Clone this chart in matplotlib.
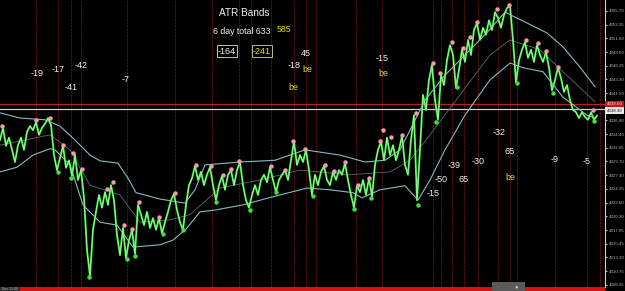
import matplotlib
matplotlib.use('Agg')
import matplotlib.pyplot as plt
import matplotlib.transforms as mtrans
from matplotlib.patches import Rectangle

plt.rcParams['font.family'] = ['Liberation Sans', 'DejaVu Sans']

W, H = 625, 291

# close price, one value every 3 bars
step = 3
price = [4333.4, 4335.5, 4332.4, 4333.8, 4331.7, 4329.6, 4332.5, 4333.8, 4331.7, 4334.8,
         4335.8, 4335.1, 4336.5, 4334.3, 4335.5, 4336.2, 4337.2, 4336.0, 4330.8, 4328.2,
         4330.3, 4332.4, 4328.6, 4329.9, 4327.2, 4330.8, 4326.5, 4328.2, 4323.4, 4314.4,
         4309.9, 4317.9, 4321.0, 4323.9, 4321.7, 4324.4, 4322.2, 4325.6, 4323.0, 4317.0,
         4313.5, 4318.2, 4313.0, 4316.1, 4317.9, 4313.7, 4322.2, 4320.5, 4318.7, 4321.0,
         4318.2, 4319.9, 4317.9, 4319.9, 4317.3, 4319.2, 4321.0, 4323.0, 4324.1, 4321.3,
         4319.2, 4317.9, 4322.2, 4325.6, 4326.8, 4328.9, 4326.5, 4327.9, 4325.6, 4327.4,
         4328.7, 4325.6, 4323.0, 4325.6, 4327.2, 4324.8, 4327.4, 4328.2, 4325.6, 4328.2,
         4329.6, 4325.6, 4323.0, 4321.7, 4323.9, 4325.6, 4323.9, 4326.5, 4327.4, 4326.1,
         4328.7, 4326.5, 4324.4, 4326.5, 4327.4, 4328.2, 4326.5, 4329.9, 4333.1, 4329.1,
         4330.8, 4329.6, 4331.7, 4328.2, 4323.9, 4327.4, 4325.6, 4327.9, 4328.9, 4326.5,
         4325.6, 4327.9, 4326.5, 4328.2, 4327.4, 4329.4, 4326.5, 4323.9, 4321.7, 4325.5,
         4324.4, 4326.5, 4323.9, 4326.8, 4323.6, 4329.1, 4331.7, 4333.1, 4329.9, 4333.8,
         4330.8, 4332.5, 4329.9, 4331.7, 4334.1, 4329.1, 4327.4, 4333.4, 4337.7, 4323.0,
         4331.7, 4341.2, 4338.6, 4343.8, 4346.4, 4340.3, 4336.9, 4344.6, 4342.9, 4347.2,
         4349.8, 4348.1, 4342.4, 4345.5, 4349.0, 4346.9, 4350.7, 4348.1, 4352.4, 4353.6,
         4350.7, 4352.8, 4351.6, 4354.1, 4352.4, 4355.5, 4354.5, 4352.8, 4355.0, 4356.2,
         4356.6, 4350.7, 4343.4, 4347.2, 4349.0, 4350.3, 4347.6, 4349.0, 4346.9, 4349.8,
         4348.1, 4346.9, 4348.6, 4345.9, 4342.0, 4343.8, 4345.9, 4344.1, 4341.7, 4342.9,
         4340.3, 4338.6, 4338.2, 4337.2, 4338.2, 4337.4, 4336.9, 4338.2, 4336.9, 4337.6]
bars = [i * step for i in range(len(price))]

# swing highs (pink) and swing lows (green)
hi_x = [2, 36, 50, 63, 73, 82, 107, 113, 124, 132, 139, 159, 175, 196, 211, 223, 231, 239,
        271, 285, 293, 305, 325, 334, 345, 358, 369, 380, 383, 391, 402, 416, 433, 440, 452,
        463, 470, 477, 497, 509, 526, 538, 546, 558, 593]
hi_p = [4335.8, 4336.9, 4337.2, 4332.5, 4331.2, 4328.4, 4324.9, 4326.1, 4318.7, 4318.0,
        4322.7, 4320.1, 4324.3, 4329.1, 4328.9, 4327.4, 4328.4, 4329.8, 4328.9, 4328.2,
        4333.2, 4331.9, 4329.1, 4328.1, 4329.6, 4325.6, 4326.8, 4333.2, 4335.1, 4333.9,
        4334.3, 4338.1, 4346.7, 4345.0, 4350.3, 4349.3, 4351.2, 4353.8, 4356.0, 4356.7,
        4350.7, 4350.2, 4348.8, 4346.0, 4338.6]
lo_x = [58, 71, 89, 127, 135, 163, 183, 216, 250, 276, 313, 354, 371, 418, 436, 457, 517, 553, 594]
lo_p = [4327.9, 4326.8, 4309.7, 4312.8, 4313.4, 4317.2, 4317.9, 4322.7, 4321.3, 4324.4,
        4323.7, 4321.5, 4323.4, 4322.2, 4336.5, 4342.6, 4343.3, 4341.5, 4336.7]

# ATR bands
up_x = [0, 20, 45, 60, 75, 90, 100, 118, 128, 136, 160, 185, 195, 205, 240, 275, 305, 340,
        365, 385, 400, 410, 425, 445, 465, 485, 505, 525, 547, 563, 580, 595]
up_p = [4338.1, 4337.2, 4336.9, 4335.8, 4333.4, 4330.8, 4329.8, 4329.4, 4326.8, 4324.3,
        4323.2, 4322.5, 4324.8, 4329.1, 4329.6, 4329.9, 4331.7, 4330.8, 4329.6, 4329.9,
        4331.7, 4335.1, 4340.3, 4344.6, 4348.1, 4351.6, 4355.5, 4353.8, 4351.9, 4349.5,
        4346.0, 4342.6]
lo_bx = [0, 17, 33, 50, 55, 70, 83, 100, 117, 133, 160, 173, 187, 200, 215, 243, 273, 307,
         330, 353, 362, 380, 405, 418, 430, 445, 465, 490, 510, 523, 543, 563, 587, 595]
lo_bp = [4327.9, 4328.7, 4330.8, 4331.9, 4331.7, 4329.1, 4322.2, 4319.2, 4318.7, 4314.9,
         4315.3, 4316.1, 4318.2, 4321.0, 4321.3, 4322.2, 4323.6, 4325.1, 4324.8, 4324.3,
         4323.4, 4324.8, 4325.5, 4323.0, 4326.5, 4331.7, 4337.7, 4343.8, 4346.7, 4345.9,
         4345.2, 4340.8, 4337.7, 4337.2]
mid_x = [0, 50, 70, 90, 120, 140, 170, 190, 220, 260, 300, 350, 390, 410, 430, 460, 490,
         510, 540, 563, 595]
mid_p = [4332.5, 4334.3, 4331.7, 4325.6, 4323.9, 4319.2, 4319.6, 4320.5, 4325.1, 4326.5,
         4328.2, 4327.4, 4327.9, 4329.9, 4334.3, 4341.2, 4348.1, 4350.7, 4349.0, 4345.2, 4340.0]

session_x = [36, 58, 71, 81, 127, 175, 212, 239, 251, 271, 294, 306, 316, 356, 382,
             433, 441, 452, 464, 478, 498, 510, 517, 555, 587, 600]

ticks = ['4308.35', '4310.75', '4313.10', '4315.45', '4317.85', '4320.20', '4322.60',
         '4324.95', '4327.30', '4329.70', '4332.05', '4334.40', '4336.80', '4339.15',
         '4341.50', '4343.90', '4346.25', '4348.60', '4351.00', '4353.35', '4355.70']
red_level = 4339.6
last_level = 4338.8
last_label = '4338.30'

# text notes: (x px, y px, text, colour, size, boxed)
WHITE, YEL = '#f0f0f0', '#e6dc20'
notes = [
    (244, 13, 'ATR Bands', WHITE, 7.2, None),
    (242, 31, '6 day total 633', WHITE, 6.3, None),
    (284, 30, '585', YEL, 6.3, None),
    (227, 51, '-164', WHITE, 6.5, '#e0e0e0'),
    (262, 51, '-241', YEL, 6.5, '#d8d8a0'),
    (37, 73, '-19', WHITE, 6.5, None),
    (58, 70, '-17', WHITE, 6.5, None),
    (81, 65, '-42', WHITE, 6.5, None),
    (71, 87, '-41', WHITE, 6.5, None),
    (126, 80, '-7', WHITE, 6.5, None),
    (306, 53, '45', WHITE, 6.5, None),
    (294, 66, '-18', WHITE, 6.5, None),
    (307, 70, 'be', YEL, 6.5, None),
    (293, 88, 'be', YEL, 6.5, None),
    (382, 59, '-15', WHITE, 6.5, None),
    (383, 74, 'be', YEL, 6.5, None),
    (499, 133, '-32', WHITE, 6.5, None),
    (510, 152, '65', WHITE, 6.5, None),
    (510, 177, 'be', YEL, 6.5, None),
    (454, 165, '-39', WHITE, 6.5, None),
    (478, 161, '-30', WHITE, 6.5, None),
    (441, 179, '-50', WHITE, 6.5, None),
    (464, 179, '65', WHITE, 6.5, None),
    (433, 194, '-15', WHITE, 6.5, None),
    (555, 160, '-9', WHITE, 6.5, None),
    (587, 161, '-5', WHITE, 6.5, None),
]

fig = plt.figure(figsize=(W / 100, H / 100), dpi=100, facecolor='black')
ax = fig.add_axes([0, 4 / H, 605 / W, 287 / H], facecolor='black')
ax.set_xlim(0, 605)
ax.set_ylim(4308.0, 4357.6)

for x in session_x:
    ax.axvline(x, color='#661212', lw=0.6, ls=(0, (3, 1)), zorder=1)

ax.axhline(red_level, color='#b82020', lw=0.9, zorder=2)
ax.axhline(last_level, color='#cfcfcf', lw=0.9, zorder=2)

ax.plot(mid_x, mid_p, color='#56706f', lw=0.6, zorder=3)
ax.plot(up_x, up_p, color='#84bcc4', lw=0.8, zorder=3)
ax.plot(lo_bx, lo_bp, color='#84bcc4', lw=0.8, zorder=3)

ax.plot(bars, price, color='#35e635', lw=1.4, zorder=4)
ax.plot(bars, price, color='white', lw=0.45, alpha=0.7, zorder=5)

ax.plot(hi_x, hi_p, 'o', color='#f49aa8', ms=3.2, mec='none', zorder=6)
ax.plot(lo_x, lo_p, 'o', color='#3ee03e', ms=3.2, mec='none', zorder=6)

# right price scale
ax.yaxis.tick_right()
ax.set_yticks([float(t) for t in ticks])
ax.set_yticklabels(ticks)
ax.tick_params(axis='y', labelsize=3.2, colors='#b0b0b0', length=1.5, pad=1.5)
ax.set_xticks([])
for s in ['top', 'left', 'bottom']:
    ax.spines[s].set_visible(False)
ax.spines['right'].set_color('#d0d0d0')
ax.spines['right'].set_linewidth(0.8)

tr = mtrans.blended_transform_factory(ax.transAxes, ax.transData)
ax.text(1.003, red_level, f'{red_level:.2f}', transform=tr, fontsize=3.2, color='#ffdddd',
        va='center', ha='left', zorder=7,
        bbox=dict(boxstyle='square,pad=0.3', fc='#c41818', ec='none'))
ax.text(1.003, last_level - 0.35, last_label, transform=tr, fontsize=3.2, color='#202020',
        va='center', ha='left', zorder=7,
        bbox=dict(boxstyle='square,pad=0.3', fc='#e8e8e8', ec='none'))

for x, y, t, c, fs, box in notes:
    kw = {}
    if box:
        kw['bbox'] = dict(boxstyle='square,pad=0.15', fc='black', ec=box, lw=0.6)
    fig.text(x / W, 1 - y / H, t, color=c, fontsize=fs, ha='center', va='center', **kw)

# bottom time strip
fig.patches.append(Rectangle((20 / W, 0), 585 / W, 4 / H, transform=fig.transFigure,
                             fc='#d41414', ec='none'))
fig.patches.append(Rectangle((0, 0), 20 / W, 4 / H, transform=fig.transFigure,
                             fc='#303030', ec='none'))
fig.patches.append(Rectangle((492 / W, 0), 33 / W, 9 / H, transform=fig.transFigure,
                             fc='#5a5a5a', ec='none'))
fig.text(516 / W, 4 / H, '\u25cf', color='#e0e040', fontsize=4, ha='center', va='center')
fig.text(2 / W, 2 / H, 'Dec 11:00', color='#c0c0c0', fontsize=2.5, ha='left', va='center')

fig.savefig('out.png', dpi=100, facecolor='black')
